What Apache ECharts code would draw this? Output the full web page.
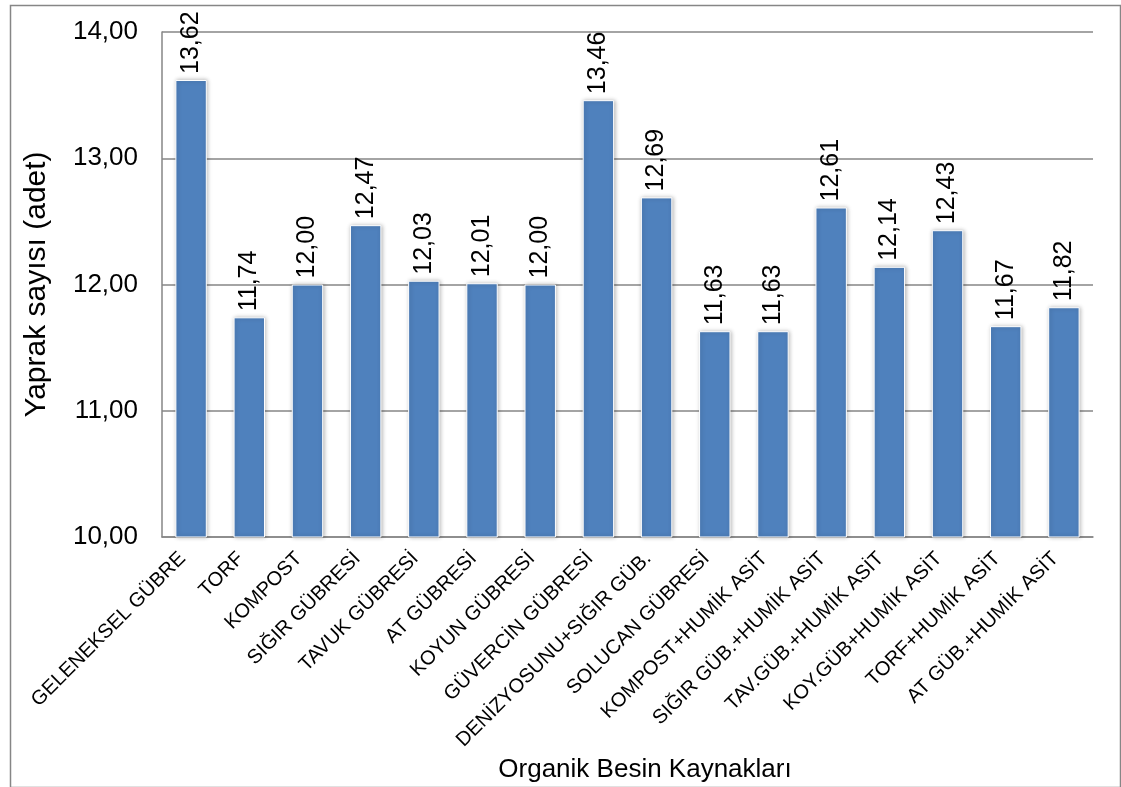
<!DOCTYPE html>
<html>
<head>
<meta charset="utf-8">
<script src="https://cdn.jsdelivr.net/npm/echarts@6/dist/echarts.min.js"></script>
<style>
  html, body { margin: 0; padding: 0; background: #ffffff; }
  #chart { width: 1121px; height: 787px; }
</style>
</head>
<body>
<div id="chart"></div>
<script>
// Leaf counts per organic nutrient source
const categories = [
  'GELENEKSEL GÜBRE', 'TORF', 'KOMPOST', 'SIĞIR GÜBRESİ', 'TAVUK GÜBRESİ',
  'AT GÜBRESİ', 'KOYUN GÜBRESİ', 'GÜVERCİN GÜBRESİ', 'DENİZYOSUNU+SIĞIR GÜB.',
  'SOLUCAN GÜBRESİ', 'KOMPOST+HUMİK ASİT', 'SIĞIR GÜB.+HUMİK ASİT',
  'TAV.GÜB.+HUMİK ASİT', 'KOY.GÜB+HUMİK ASİT', 'TORF+HUMİK ASİT', 'AT GÜB.+HUMİK ASİT'
];
const leafCounts = [13.62, 11.74, 12.00, 12.47, 12.03, 12.01, 12.00, 13.46, 12.69, 11.63, 11.63, 12.61, 12.14, 12.43, 11.67, 11.82];
const yTicks = [10, 11, 12, 13, 14];

const FONT = '"Liberation Sans", Arial, sans-serif';
const fmt = v => Number(v).toFixed(2).replace('.', ',');

const chart = echarts.init(document.getElementById('chart'), null, { renderer: 'canvas' });

chart.setOption({
  backgroundColor: '#ffffff',
  animation: false,
  grid: { left: 162, right: 28, top: 32, bottom: 250, containLabel: false },
  xAxis: {
    type: 'category',
    data: categories,
    axisLine: { show: true, lineStyle: { color: '#868686', width: 1.5 } },
    axisTick: { show: false },
    axisLabel: {
      interval: 0,
      rotate: 45,
      margin: 10,
      padding: [0, 12, 0, 0],
      color: '#000000',
      fontFamily: FONT,
      fontSize: 20
    }
  },
  yAxis: {
    type: 'value',
    min: yTicks[0],
    max: yTicks[yTicks.length - 1],
    interval: 1,
    name: 'Yaprak sayısı (adet)',
    nameLocation: 'middle',
    nameGap: 110,
    nameRotate: 90,
    nameTextStyle: { color: '#000000', fontFamily: FONT, fontSize: 30 },
    axisLine: { show: true, lineStyle: { color: '#868686', width: 1.5 } },
    axisTick: { show: false },
    axisLabel: {
      margin: 24,
      color: '#000000',
      fontFamily: FONT,
      fontSize: 26,
      formatter: v => fmt(v)
    },
    splitLine: { show: true, lineStyle: { color: '#868686', width: 1.5 } }
  },
  series: [{
    type: 'bar',
    data: leafCounts,
    barWidth: '54%',
    itemStyle: {
      color: '#4F81BD',
      borderColor: '#ffffff',
      borderWidth: 1,
      shadowColor: 'rgba(0,0,0,0.28)',
      shadowBlur: 4,
      shadowOffsetX: 1,
      shadowOffsetY: 0
    },
    label: {
      show: true,
      position: 'top',
      rotate: 90,
      align: 'left',
      verticalAlign: 'middle',
      distance: 6,
      color: '#000000',
      fontFamily: FONT,
      fontSize: 25,
      formatter: p => fmt(p.value)
    }
  }],
  graphic: [
    {
      type: 'rect',
      left: 8,
      top: 3,
      shape: { width: 1110, height: 782 },
      style: { fill: 'none', stroke: '#868686', lineWidth: 1.5 },
      silent: true,
      z: 100
    },
    {
      type: 'text',
      x: 645,
      y: 770,
      style: {
        text: 'Organik Besin Kaynakları',
        fill: '#000000',
        font: '26px ' + FONT,
        align: 'center',
        verticalAlign: 'middle'
      }
    }
  ]
});
</script>
</body>
</html>
